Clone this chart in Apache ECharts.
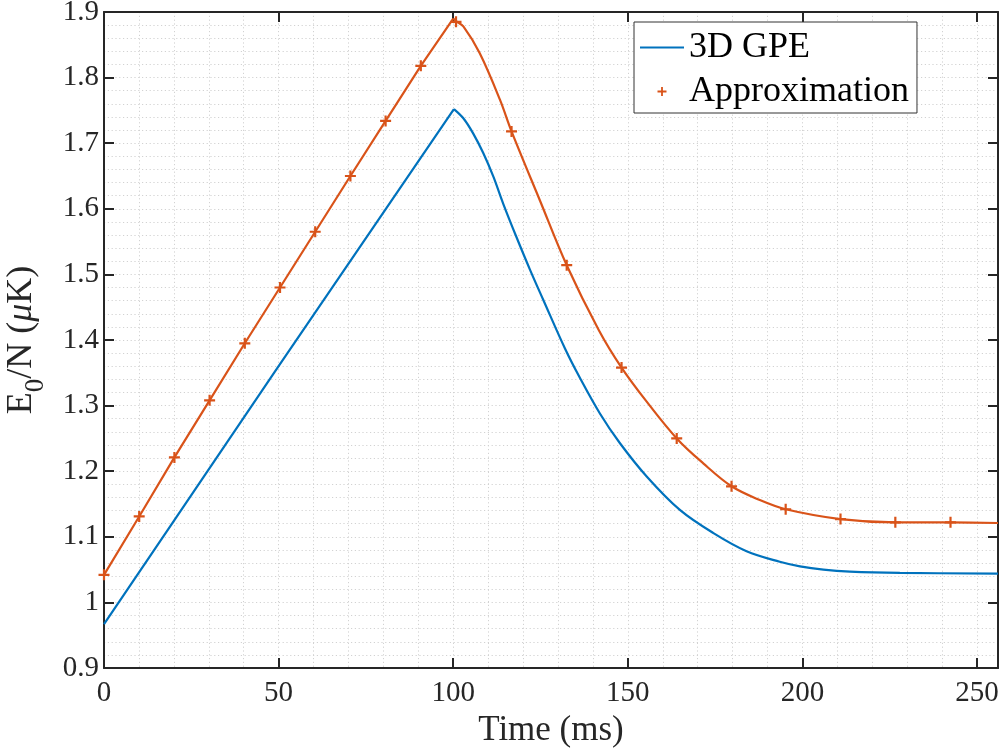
<!DOCTYPE html>
<html>
<head>
<meta charset="utf-8">
<script src="https://cdn.jsdelivr.net/npm/echarts@6/dist/echarts.min.js"></script>
<style>
html,body{margin:0;padding:0;background:#fff;}
#chart{width:1003px;height:754px;}
</style>
</head>
<body>
<div id="chart"></div>
<script>
// ---- data ----
const gpeT = [0, 50, 100.2, 102.9, 105.7, 108.6, 111.5, 114.3, 118.1, 122, 125.8, 132, 136.3, 142, 147.7, 155.4, 164.9, 174.4, 184, 193.5, 199.3, 206, 213.6, 227.9, 256];
const gpeY = [0.967, 1.360, 1.752, 1.738, 1.715, 1.685, 1.649, 1.608, 1.557, 1.507, 1.461, 1.387, 1.342, 1.288, 1.243, 1.192, 1.141, 1.106, 1.078, 1.062, 1.055, 1.050, 1.047, 1.045, 1.044];

const approxLineT = [0, 10.08, 20.16, 30.24, 40.32, 50.4, 60.48, 70.56, 80.64, 90.72, 100, 100.8, 102.9, 107.6, 113.4, 116.7, 124.8, 132.5, 141.7, 148.2, 155.4, 164, 171.6, 179.7, 187.8, 195.2, 210.9, 226.6, 242.4, 256];
const approxLineY = [1.042, 1.131, 1.221, 1.308, 1.395, 1.480, 1.565, 1.650, 1.734, 1.818, 1.890, 1.886, 1.878, 1.837, 1.766, 1.718, 1.613, 1.514, 1.415, 1.358, 1.306, 1.250, 1.212, 1.177, 1.156, 1.142, 1.127, 1.122, 1.122, 1.121];

const approxMarkT = [0, 10.08, 20.16, 30.24, 40.32, 50.4, 60.48, 70.56, 80.64, 90.72, 100.8, 116.7, 132.5, 148.2, 164, 179.7, 195.2, 210.9, 226.6, 242.4];
const approxMarkY = [1.042, 1.131, 1.221, 1.308, 1.395, 1.480, 1.565, 1.650, 1.734, 1.818, 1.885, 1.718, 1.514, 1.358, 1.250, 1.177, 1.142, 1.127, 1.122, 1.122];

const seriesNames = ['3D GPE', 'Approximation'];
const xTitle = 'Time (ms)';

// ---- chart ----
const zip = (a, b) => a.map((v, i) => [v, b[i]]);
// split a curve at its maximum: straight ramp before, smooth decay after
function splitAtPeak(t, y) {
  let k = 0;
  y.forEach((v, i) => { if (v > y[k]) k = i; });
  const pts = zip(t, y);
  return [pts.slice(0, k + 1), pts.slice(k)];
}
const [gpeUp, gpeDown] = splitAtPeak(gpeT, gpeY);
const [apUp, apDown] = splitAtPeak(approxLineT, approxLineY);

const FONT = 'Liberation Serif';
const DARK = '#262626';
const GRIDC = '#d2d2d2';
const BLUE = '#0072BD';
const ORANGE = '#D95319';
const PLUS = 'path://M4,0H6V4H10V6H6V10H4V6H0V4H4Z';

const X = {min: 0, max: 256};
const Y = {min: 0.9, max: 1.9};

const chart = echarts.init(document.getElementById('chart'), null, {renderer: 'canvas'});
const axisLine = {show: true, onZero: false, lineStyle: {color: DARK, width: 2}};
const tick = {show: true, inside: true, length: 10, lineStyle: {color: DARK, width: 2}};
const dotted = {show: true, lineStyle: {color: GRIDC, type: [1.2, 2.6], width: 1}};
const off = {axisLine: {show: false}, axisTick: {show: false}, axisLabel: {show: false}};

chart.setOption({
  animation: false,
  backgroundColor: '#fff',
  grid: {left: 104, right: 5, top: 12, bottom: 86, containLabel: false, outerBoundsMode: 'none'},
  legend: {
    data: [
      {name: seriesNames[0], itemStyle: {opacity: 0}},
      {name: seriesNames[1], icon: PLUS}
    ],
    orient: 'vertical',
    left: 634, top: 22,
    backgroundColor: '#fff',
    borderColor: '#333',
    borderWidth: 1,
    borderRadius: 0,
    padding: [4, 8, 0, 5],
    itemGap: 1,
    itemWidth: 44,
    itemHeight: 9,
    textStyle: {fontFamily: FONT, fontSize: 36, color: '#000', lineHeight: 43}
  },
  xAxis: [
    {type: 'value', position: 'bottom', min: X.min, max: X.max, interval: 50,
     axisLine, axisTick: tick,
     axisLabel: {fontFamily: FONT, fontSize: 29, color: DARK, margin: 11, showMaxLabel: false},
     splitLine: {show: false},
     name: xTitle, nameLocation: 'middle', nameGap: 42,
     nameTextStyle: {fontFamily: FONT, fontSize: 35, color: DARK}},
    {type: 'value', position: 'top', min: X.min, max: X.max, interval: 50,
     axisLine, axisTick: tick, axisLabel: {show: false}, splitLine: {show: false}},
    Object.assign({type: 'value', position: 'top', min: X.min, max: X.max, interval: 10, splitLine: dotted}, off)
  ],
  yAxis: [
    {type: 'value', position: 'left', min: Y.min, max: Y.max, interval: 0.1,
     axisLine, axisTick: tick,
     axisLabel: {fontFamily: FONT, fontSize: 29, color: DARK, margin: 5},
     splitLine: {show: false},
     name: '{e|E}{s|0}{e|/N (}{mu|μ}{e|K)}', nameLocation: 'middle', nameGap: 55, nameRotate: 90,
     nameTextStyle: {fontFamily: FONT, fontSize: 36, color: DARK,
       rich: {
         e: {fontFamily: FONT, fontSize: 36, color: DARK, verticalAlign: 'bottom', lineHeight: 38, padding: [0, 0, 9, 0]},
         s: {fontFamily: FONT, fontSize: 27, color: DARK, verticalAlign: 'bottom', lineHeight: 30, padding: [0, 0, 0, 0]},
         mu: {fontFamily: FONT, fontSize: 36, color: DARK, fontStyle: 'italic', verticalAlign: 'bottom', lineHeight: 38, padding: [0, 0, 9, 0]}
       }}},
    {type: 'value', position: 'right', min: Y.min, max: Y.max, interval: 0.1,
     axisLine, axisTick: tick, axisLabel: {show: false}, splitLine: {show: false}},
    Object.assign({type: 'value', position: 'right', min: Y.min, max: Y.max, interval: 0.02, splitLine: dotted}, off)
  ],
  series: [
    {name: seriesNames[0], type: 'line', data: gpeUp, symbol: 'none',
     lineStyle: {color: BLUE, width: 2.2}, itemStyle: {color: BLUE}, z: 3},
    {name: seriesNames[0], type: 'line', data: gpeDown, symbol: 'none', smooth: 0.35,
     lineStyle: {color: BLUE, width: 2.2}, itemStyle: {color: BLUE}, z: 3},
    {name: 'approxLine', type: 'line', data: apUp, symbol: 'none',
     lineStyle: {color: ORANGE, width: 2.2}, itemStyle: {color: ORANGE}, z: 3},
    {name: 'approxLine', type: 'line', data: apDown, symbol: 'none', smooth: 0.35,
     lineStyle: {color: ORANGE, width: 2.2}, itemStyle: {color: ORANGE}, z: 3},
    {name: seriesNames[1], type: 'scatter', data: zip(approxMarkT, approxMarkY),
     symbol: PLUS, symbolSize: 11, symbolKeepAspect: true,
     itemStyle: {color: ORANGE, opacity: 1}, z: 4}
  ]
});
</script>
</body>
</html>
